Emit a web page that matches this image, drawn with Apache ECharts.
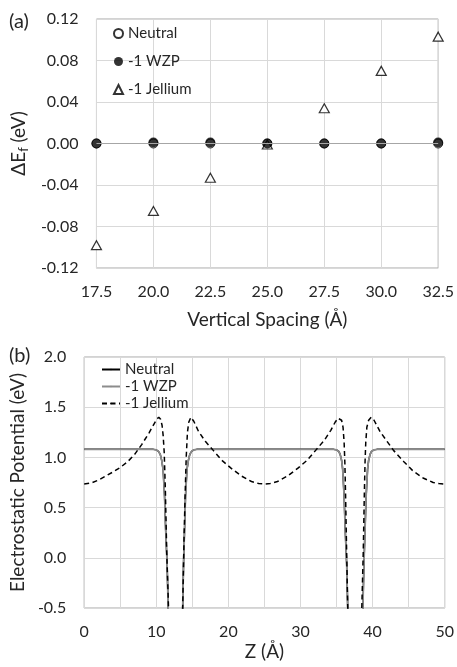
<!DOCTYPE html>
<html>
<head>
<meta charset="utf-8">
<script src="https://cdn.jsdelivr.net/npm/echarts@6/dist/echarts.min.js"></script>
<style>
  html, body { margin: 0; padding: 0; background: #fff; }
  .panel { position: absolute; left: 0; top: 0; width: 457px; height: 667px; }
</style>
</head>
<body>
<div id="panelA" class="panel"></div>
<div id="panelB" class="panel"></div>
<script>
// ---- (a) formation energy difference vs. vertical spacing ----
const spacing = [17.5, 20.0, 22.5, 25.0, 27.5, 30.0, 32.5];
const dEfNeutral = [0.000, 0.000, 0.000, 0.000, 0.000, 0.000, 0.000];
const dEfWZP = [0.000, 0.001, 0.001, 0.000, 0.000, 0.000, 0.001];
const dEfJellium = [-0.098, -0.065, -0.033, -0.001, 0.034, 0.070, 0.103];

// ---- (b) planar-averaged electrostatic potential, [Z (Å), V (eV)] ----
const potWZP = [
  [0, 1.08], [9.6, 1.08], [10.0, 1.075], [10.3, 1.06], [10.55, 1.03], [10.75, 0.97],
  [10.95, 0.875], [11.15, 0.61], [11.3, 0.28], [11.5, -0.06], [11.65, -0.5], [11.9, -2.5],
  [13.4, -2.5], [13.66, -0.5], [13.78, -0.06], [13.92, 0.28], [14.05, 0.61], [14.25, 0.875],
  [14.45, 0.97], [14.65, 1.03], [14.9, 1.06], [15.2, 1.075], [15.6, 1.08],
  [34.6, 1.08], [35.0, 1.075], [35.3, 1.06], [35.5, 1.03], [35.7, 0.97], [35.85, 0.88],
  [36.05, 0.61], [36.2, 0.28], [36.4, -0.06], [36.55, -0.5], [36.8, -2.5],
  [38.4, -2.5], [38.65, -0.5], [38.8, -0.06], [38.95, 0.28], [39.1, 0.61], [39.3, 0.88],
  [39.45, 0.97], [39.65, 1.03], [39.85, 1.06], [40.2, 1.075], [40.6, 1.08], [50, 1.08]
];
// the neutral profile lies on top of the -1 WZP one
const potNeutral = potWZP.map(p => p.slice());
const potJellium = [
  [0, 0.735], [1, 0.745], [2, 0.775], [3, 0.815], [4, 0.855], [5, 0.9], [6, 0.955],
  [7, 1.03], [8, 1.13], [9, 1.245], [9.7, 1.335], [10.05, 1.38], [10.35, 1.40],
  [10.6, 1.38], [10.8, 1.32], [10.95, 1.22], [11.1, 1.05], [11.25, 0.7], [11.45, 0.05],
  [11.7, -0.5], [12.0, -2.5], [13.35, -2.5], [13.66, -0.5], [13.85, 0.2], [14.0, 0.63],
  [14.15, 1.0], [14.32, 1.25], [14.5, 1.35], [14.8, 1.40], [15.2, 1.36], [15.85, 1.26],
  [16.8, 1.16], [17.9, 1.07], [19.1, 0.97], [20.4, 0.89], [21.8, 0.815], [23.2, 0.76],
  [24.2, 0.74], [25, 0.735], [25.8, 0.74], [26.8, 0.76], [28.2, 0.815], [29.6, 0.89],
  [30.9, 0.97], [32.1, 1.07], [33.3, 1.17], [34.2, 1.27], [34.8, 1.35], [35.2, 1.39],
  [35.45, 1.40], [35.7, 1.37], [35.9, 1.3], [36.05, 1.15], [36.15, 0.95], [36.25, 0.63],
  [36.4, 0.05], [36.55, -0.5], [36.8, -2.5], [38.3, -2.5], [38.5, -0.5], [38.7, 0.05],
  [38.85, 0.63], [38.95, 0.95], [39.05, 1.15], [39.2, 1.3], [39.45, 1.37], [39.8, 1.40],
  [40.2, 1.37], [41.05, 1.255], [42.0, 1.16], [42.9, 1.07], [44.3, 0.96], [45.6, 0.865],
  [47.0, 0.795], [48.4, 0.75], [49.2, 0.74], [50, 0.735]
];

const FONT = 'Lato';
const TEXT_C = '#262626';
const GRID_C = '#d9d9d9';
const FRAME_C = '#a6a6a6';

const pairs = (xs, ys) => xs.map((x, i) => [x, ys[i]]);

// ---------- panel (a) ----------
const chartA = echarts.init(document.getElementById('panelA'), null, { renderer: 'canvas' });
chartA.setOption({
  animation: false,
  textStyle: { fontFamily: FONT },
  graphic: [{
    type: 'text', left: 9, top: 12,
    style: { text: '(a)', font: '20px Lato', fill: TEXT_C }
  }],
  grid: {
    left: 93, top: 19, width: 346, height: 249,
    show: true, borderColor: FRAME_C, borderWidth: 1, backgroundColor: 'transparent'
  },
  xAxis: {
    type: 'value', min: 17.5, max: 32.5, interval: 2.5,
    name: 'Vertical Spacing (Å)', nameLocation: 'middle', nameGap: 42,
    nameTextStyle: { fontSize: 19, color: TEXT_C, fontFamily: FONT },
    axisLine: { show: false }, axisTick: { show: false },
    axisLabel: { fontSize: 16, color: TEXT_C, margin: 16, fontFamily: FONT, formatter: v => v.toFixed(1) },
    splitLine: { show: true, lineStyle: { color: GRID_C, width: 1 } }
  },
  yAxis: {
    type: 'value', min: -0.12, max: 0.12, interval: 0.04,
    name: '{a|ΔE}{s|f}{a| (eV)}', nameLocation: 'middle', nameGap: 60, nameRotate: 90,
    nameTextStyle: {
      color: TEXT_C, fontFamily: FONT,
      rich: {
        a: { fontSize: 19, color: TEXT_C, fontFamily: FONT, lineHeight: 24 },
        s: { fontSize: 13, color: TEXT_C, fontFamily: FONT, lineHeight: 24, padding: [9, 0, 0, 0] }
      }
    },
    axisLine: { show: false }, axisTick: { show: false },
    axisLabel: { fontSize: 16, color: TEXT_C, margin: 18, fontFamily: FONT, formatter: v => v.toFixed(2) },
    splitLine: { show: true, lineStyle: { color: GRID_C, width: 1 } }
  },
  legend: {
    orient: 'vertical', left: 108, top: 21,
    itemWidth: 9, itemHeight: 9, itemGap: 13,
    textStyle: { fontSize: 15, color: TEXT_C, fontFamily: FONT },
    data: ['Neutral', '-1 WZP', '-1 Jellium']
  },
  series: [
    {
      name: 'Neutral', type: 'scatter', z: 2,
      data: pairs(spacing, dEfNeutral),
      symbol: 'circle', symbolSize: 9,
      itemStyle: { color: '#ffffff', borderColor: '#000000', borderWidth: 1 },
      markLine: {
        silent: true, symbol: 'none', label: { show: false },
        lineStyle: { color: FRAME_C, width: 1, type: 'solid' },
        data: [{ yAxis: 0 }]
      }
    },
    {
      name: '-1 WZP', type: 'scatter', z: 4,
      data: pairs(spacing, dEfWZP),
      symbol: 'circle', symbolSize: 10,
      itemStyle: { color: '#000000', borderColor: '#000000', borderWidth: 0 }
    },
    {
      name: '-1 Jellium', type: 'scatter', z: 3,
      data: pairs(spacing, dEfJellium),
      symbol: 'triangle', symbolSize: [10, 9],
      itemStyle: { color: '#ffffff', borderColor: '#000000', borderWidth: 1.2 }
    }
  ]
});

// ---------- panel (b) ----------
const chartB = echarts.init(document.getElementById('panelB'), null, { renderer: 'canvas' });
chartB.setOption({
  animation: false,
  textStyle: { fontFamily: FONT },
  graphic: [{
    type: 'text', left: 9, top: 346,
    style: { text: '(b)', font: '20px Lato', fill: TEXT_C }
  }],
  grid: {
    left: 83, top: 357, width: 364, height: 251,
    show: true, borderColor: FRAME_C, borderWidth: 1, backgroundColor: 'transparent'
  },
  xAxis: {
    type: 'value', min: 0, max: 50, interval: 5,
    name: 'Z (Å)', nameLocation: 'middle', nameGap: 34,
    nameTextStyle: { fontSize: 19, color: TEXT_C, fontFamily: FONT },
    axisLine: { show: false }, axisTick: { show: false },
    axisLabel: {
      fontSize: 16, color: TEXT_C, margin: 16, fontFamily: FONT,
      formatter: v => (Math.round(v) % 10 === 0 ? String(Math.round(v)) : '')
    },
    splitLine: { show: true, lineStyle: { color: GRID_C, width: 1 } }
  },
  yAxis: {
    type: 'value', min: -0.5, max: 2.0, interval: 0.5,
    name: 'Electrostatic Potential (eV)', nameLocation: 'middle', nameGap: 53,
    nameTextStyle: { fontSize: 19, color: TEXT_C, fontFamily: FONT },
    axisLine: { show: false }, axisTick: { show: false },
    axisLabel: { fontSize: 16, color: TEXT_C, margin: 18, fontFamily: FONT, formatter: v => v.toFixed(1) },
    splitLine: { show: true, lineStyle: { color: GRID_C, width: 1 } }
  },
  legend: {
    orient: 'vertical', left: 96, top: 357,
    itemWidth: 18, itemHeight: 2, itemGap: 2,
    textStyle: { fontSize: 15, color: TEXT_C, fontFamily: FONT },
    data: ['Neutral', '-1 WZP', '-1 Jellium']
  },
  series: [
    {
      name: 'Neutral', type: 'line', data: potNeutral,
      showSymbol: false, symbol: 'none', z: 2,
      lineStyle: { color: '#000000', width: 1.5, type: 'solid' }, itemStyle: { color: '#000000' }
    },
    {
      name: '-1 WZP', type: 'line', data: potWZP,
      showSymbol: false, symbol: 'none', z: 3,
      lineStyle: { color: '#8c8c8c', width: 1.75, type: 'solid' }, itemStyle: { color: '#8c8c8c' }
    },
    {
      name: '-1 Jellium', type: 'line', data: potJellium,
      showSymbol: false, symbol: 'none', z: 4,
      lineStyle: { color: '#000000', width: 1.5, type: [5, 3.5] }, itemStyle: { color: '#000000' }
    }
  ]
});
</script>
</body>
</html>
